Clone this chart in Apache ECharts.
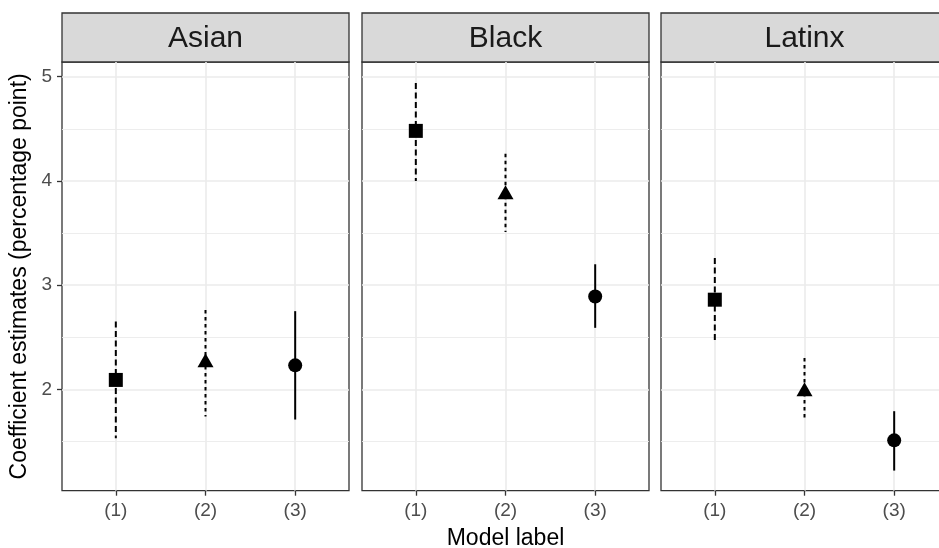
<!DOCTYPE html>
<html>
<head>
<meta charset="utf-8">
<script src="https://cdn.jsdelivr.net/npm/echarts@6/dist/echarts.min.js"></script>
<style>
  html, body { margin: 0; padding: 0; background: #fff; }
  #chart { width: 939px; height: 548px; }
</style>
</head>
<body>
<div id="chart"></div>
<script>
// data
const groups = ['Asian', 'Black', 'Latinx'];
const models = [1, 2, 3];
const modelLabels = ['(1)', '(2)', '(3)'];
const yTicks = [2, 3, 4, 5];
const yMinorTicks = [1.5, 2.5, 3.5, 4.5];

const asianEst = [2.09, 2.28, 2.23];
const asianLow = [1.53, 1.74, 1.71];
const asianHigh = [2.65, 2.76, 2.75];

const blackEst = [4.48, 3.89, 2.89];
const blackLow = [4.00, 3.51, 2.59];
const blackHigh = [4.94, 4.26, 3.20];

const latinxEst = [2.86, 2.00, 1.51];
const latinxLow = [2.44, 1.70, 1.22];
const latinxHigh = [3.26, 2.30, 1.79];

const estimates = [asianEst, blackEst, latinxEst];
const lows = [asianLow, blackLow, latinxLow];
const highs = [asianHigh, blackHigh, latinxHigh];

const symbols = ['rect', 'triangle', 'circle'];
const symbolSizes = [[14, 14], [16, 14], [14, 14]];
const dashes = [[6, 3.5], [3.5, 3.5], null];

const panelLeft = [62, 362, 661];
const panelWidth = 287;
const panelTop = 62;
const panelBottom = 548 - 490.7;
const stripTop = 13;

let dom = document.getElementById('chart');
let myChart = echarts.init(dom, null, { renderer: 'canvas' });

let grids = [];
let xAxes = [];
let yAxes = [];
let series = [];
let graphics = [];

for (let i = 0; i < groups.length; i++) {
    grids.push({
        left: panelLeft[i],
        width: panelWidth,
        top: panelTop,
        bottom: panelBottom,
        outerBoundsMode: 'none',
        containLabel: false,
        show: true,
        backgroundColor: '#fff',
        borderColor: '#333333',
        borderWidth: 1.3
    });

    xAxes.push({
        gridIndex: i,
        type: 'value',
        position: 'bottom',
        min: 0.4,
        max: 3.6,
        axisLine: { show: false },
        axisTick: {
            show: true,
            customValues: models,
            length: 5,
            lineStyle: { color: '#333333', width: 1.3 }
        },
        axisLabel: {
            customValues: models,
            formatter: function (v) { return modelLabels[Math.round(v) - 1]; },
            color: '#4d4d4d',
            fontSize: 19,
            fontFamily: 'Liberation Sans',
            margin: 11
        },
        splitLine: { show: true, lineStyle: { color: '#ebebeb', width: 1.6 } },
        name: i === 1 ? 'Model label' : '',
        nameLocation: 'middle',
        nameGap: 36,
        nameTextStyle: { color: '#000', fontSize: 23, fontFamily: 'Liberation Sans' }
    });

    // minor horizontal grid lines
    yAxes.push({
        gridIndex: i,
        type: 'value',
        position: 'left',
        min: 1.027,
        max: 5.141,
        axisLine: { show: false },
        axisTick: { show: false, customValues: yMinorTicks },
        axisLabel: { show: false, customValues: yMinorTicks },
        splitLine: { show: true, lineStyle: { color: '#ebebeb', width: 0.9 } }
    });

    // major horizontal grid lines
    yAxes.push({
        gridIndex: i,
        type: 'value',
        position: 'left',
        min: 1.027,
        max: 5.141,
        axisLine: { show: false },
        axisTick: {
            show: i === 0,
            customValues: yTicks,
            length: 5,
            lineStyle: { color: '#333333', width: 1.3 }
        },
        axisLabel: {
            show: i === 0,
            customValues: yTicks,
            color: '#4d4d4d',
            fontSize: 19,
            fontFamily: 'Liberation Sans',
            margin: 10
        },
        splitLine: { show: true, lineStyle: { color: '#ebebeb', width: 1.6 } },
        name: i === 0 ? 'Coefficient estimates (percentage point)' : '',
        nameLocation: 'middle',
        nameGap: 31,
        nameTextStyle: { color: '#000', fontSize: 23, fontFamily: 'Liberation Sans' }
    });

    let barData = [];
    let pointData = [];
    for (let j = 0; j < models.length; j++) {
        barData.push([models[j], lows[i][j], highs[i][j]]);
        pointData.push({
            value: [models[j], estimates[i][j]],
            symbol: symbols[j],
            symbolSize: symbolSizes[j]
        });
    }

    series.push({
        type: 'custom',
        xAxisIndex: i,
        yAxisIndex: i * 2 + 1,
        data: barData,
        encode: { x: 0, y: [1, 2] },
        silent: true,
        renderItem: function (params, api) {
            let k = Math.round(api.value(0)) - 1;
            let low = api.coord([api.value(0), api.value(1)]);
            let high = api.coord([api.value(0), api.value(2)]);
            return {
                type: 'line',
                shape: { x1: high[0], y1: high[1], x2: low[0], y2: low[1] },
                style: {
                    stroke: '#000',
                    lineWidth: 2,
                    lineDash: dashes[k],
                    lineCap: 'butt'
                }
            };
        }
    });

    series.push({
        type: 'scatter',
        xAxisIndex: i,
        yAxisIndex: i * 2 + 1,
        data: pointData,
        itemStyle: { color: '#000', opacity: 1 },
        silent: true,
        z: 3
    });

    // facet strip
    graphics.push({
        type: 'group',
        x: panelLeft[i],
        y: stripTop,
        children: [
            {
                type: 'rect',
                shape: { x: 0, y: 0, width: panelWidth, height: panelTop - stripTop },
                style: { fill: '#d9d9d9', stroke: '#333333', lineWidth: 1.3 }
            },
            {
                type: 'text',
                x: panelWidth / 2,
                y: (panelTop - stripTop) / 2 + 1,
                style: {
                    text: groups[i],
                    fill: '#1a1a1a',
                    fontSize: 30,
                    fontFamily: 'Liberation Sans',
                    align: 'center',
                    verticalAlign: 'middle'
                }
            }
        ]
    });
}

let option = {
    animation: false,
    backgroundColor: '#fff',
    grid: grids,
    xAxis: xAxes,
    yAxis: yAxes,
    series: series,
    graphic: graphics
};

myChart.setOption(option);
window.addEventListener('resize', myChart.resize);
</script>
</body>
</html>
